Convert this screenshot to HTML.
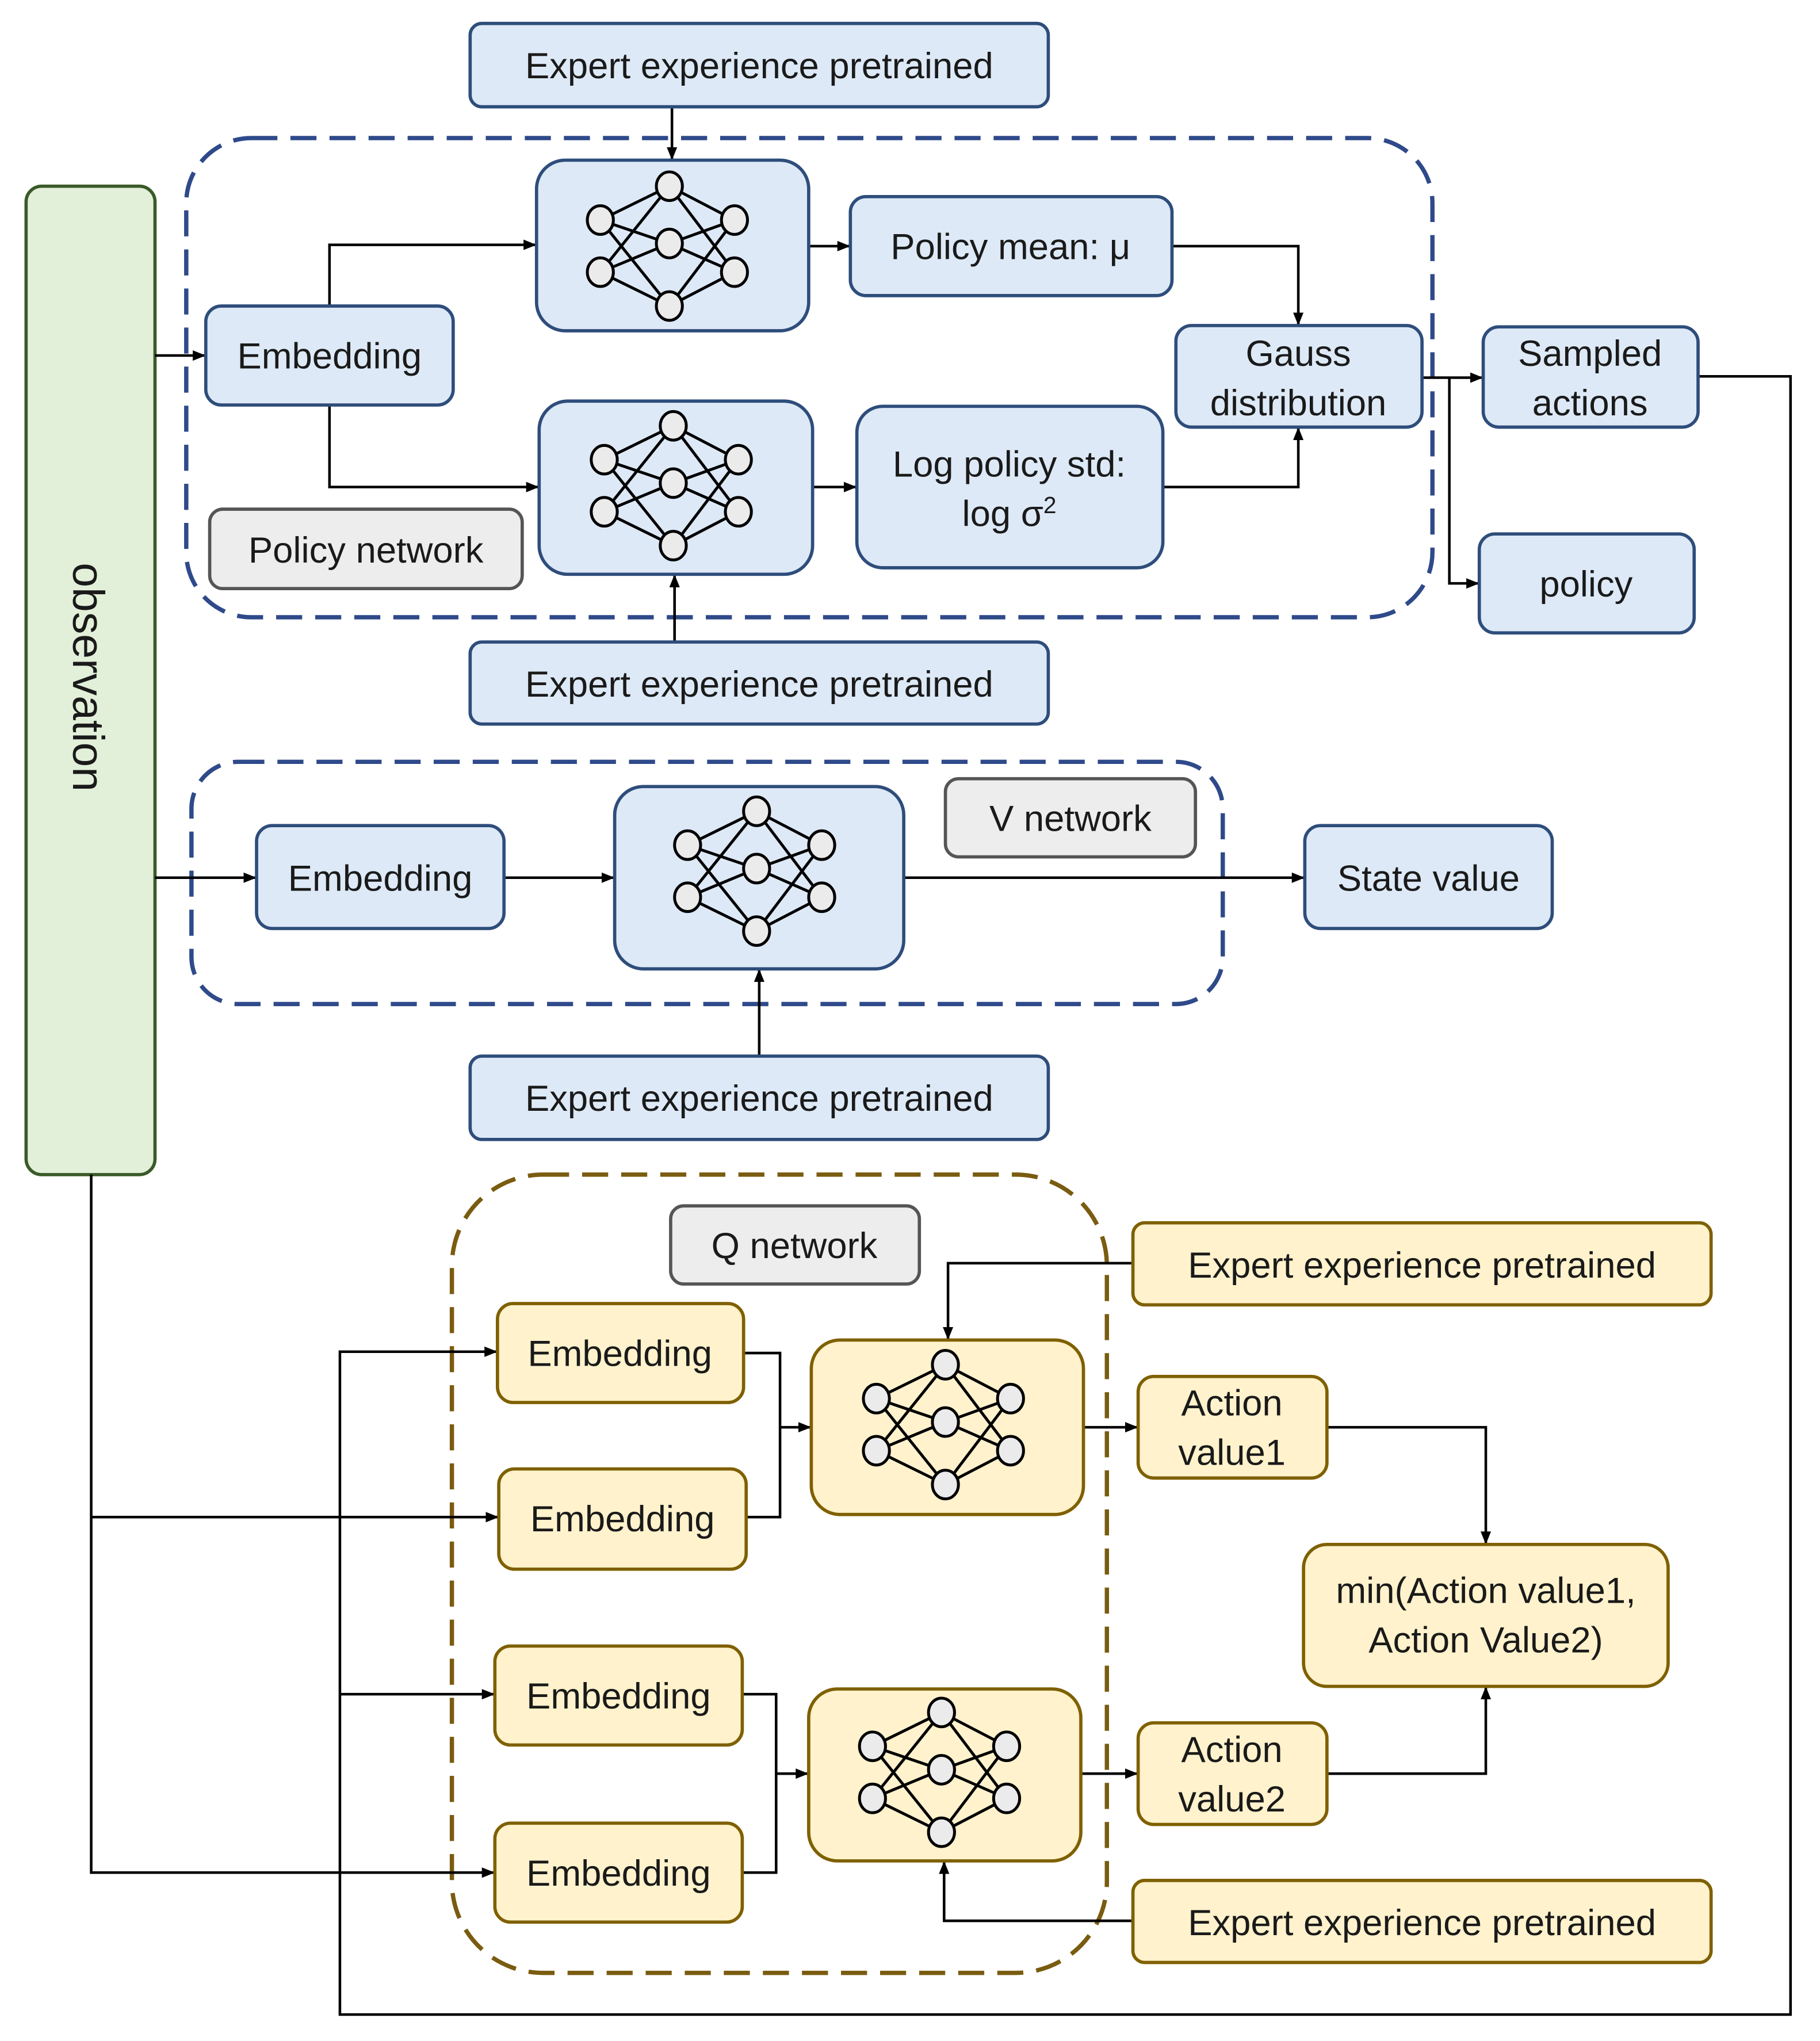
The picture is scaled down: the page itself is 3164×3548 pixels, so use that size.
<!DOCTYPE html>
<html><head><meta charset="utf-8"><style>html,body{margin:0;padding:0;background:#fff}svg{display:block}</style></head>
<body>
<svg xmlns="http://www.w3.org/2000/svg" width="3164" height="3548" viewBox="0 0 1397.6 1567.3" font-family="'Liberation Sans', sans-serif" font-size="28" fill="#1a1a1a">
<defs>
<marker id="a" markerWidth="10" markerHeight="10" refX="9" refY="5" orient="auto" markerUnits="userSpaceOnUse"><path d="M0,1 L10,5 L0,9 z" fill="#000"/></marker>
<g id="nn" stroke="#000" stroke-width="2.2">
<g fill="none">
<path d="M-53,-20 L0,-46 M-53,-20 L0,-2 M-53,-20 L0,46 M-53,20 L0,-46 M-53,20 L0,-2 M-53,20 L0,46 M50,-20 L0,-46 M50,-20 L0,-2 M50,-20 L0,46 M50,20 L0,-46 M50,20 L0,-2 M50,20 L0,46"/>
</g>
<g fill="#ebebeb">
<ellipse cx="-53" cy="-20" rx="10" ry="11"/><ellipse cx="-53" cy="20" rx="10" ry="11"/>
<ellipse cx="0" cy="-46" rx="10" ry="11"/><ellipse cx="0" cy="-2" rx="10" ry="11"/><ellipse cx="0" cy="46" rx="10" ry="11"/>
<ellipse cx="50" cy="-20" rx="10" ry="11"/><ellipse cx="50" cy="20" rx="10" ry="11"/>
</g>
</g>
</defs>

<rect x="20" y="143" width="99" height="759" rx="12" fill="#e2efd9" stroke="#3a5a28" stroke-width="2.5"/>
<text transform="translate(56,520) rotate(90)" text-anchor="middle" font-size="34">observation</text>

<rect x="143" y="106" width="957" height="368" rx="50" fill="none" stroke="#2f4a8a" stroke-width="3.3" stroke-dasharray="20,10"/>
<rect x="147" y="585" width="792" height="186" rx="36" fill="none" stroke="#2f4a8a" stroke-width="3.3" stroke-dasharray="20,10"/>
<rect x="347" y="902" width="503" height="613" rx="70" fill="none" stroke="#7a5c10" stroke-width="3.3" stroke-dasharray="20,10"/>

<g stroke="#000" stroke-width="2" fill="none">
<path d="M119,273 H157" marker-end="url(#a)"/>
<path d="M253,235 V188 H411" marker-end="url(#a)"/>
<path d="M253,311 V374 H413" marker-end="url(#a)"/>
<path d="M516,82 V122" marker-end="url(#a)"/>
<path d="M621,189 H652" marker-end="url(#a)"/>
<path d="M900,189 H997 V249" marker-end="url(#a)"/>
<path d="M624,374 H657" marker-end="url(#a)"/>
<path d="M893,374 H997 V329" marker-end="url(#a)"/>
<path d="M1092,290 H1138" marker-end="url(#a)"/>
<path d="M1113,290 V448 H1135" marker-end="url(#a)"/>
<path d="M1304,289 H1375 V1547 H261 V1038 H381" marker-end="url(#a)"/>
<path d="M261,1301 H379" marker-end="url(#a)"/>
<path d="M518,493 V442" marker-end="url(#a)"/>
<path d="M119,674 H196" marker-end="url(#a)"/>
<path d="M387,674 H471" marker-end="url(#a)"/>
<path d="M694,674 H1001" marker-end="url(#a)"/>
<path d="M583,811 V745" marker-end="url(#a)"/>
<path d="M70,902 V1438 H379" marker-end="url(#a)"/>
<path d="M70,1165 H382" marker-end="url(#a)"/>
<path d="M571,1039 H599 V1165 H573"/>
<path d="M599,1096 H622" marker-end="url(#a)"/>
<path d="M570,1301 H596 V1438 H570"/>
<path d="M596,1362 H620" marker-end="url(#a)"/>
<path d="M870,970 H728 V1028" marker-end="url(#a)"/>
<path d="M870,1475 H725 V1430" marker-end="url(#a)"/>
<path d="M832,1096 H873" marker-end="url(#a)"/>
<path d="M830,1362 H873" marker-end="url(#a)"/>
<path d="M1019,1096 H1141 V1185" marker-end="url(#a)"/>
<path d="M1019,1362 H1141 V1296" marker-end="url(#a)"/>
</g>

<g fill="#dde9f6" stroke="#2e4d7b" stroke-width="2.5">
<rect x="361" y="18" width="444" height="64" rx="9"/>
<rect x="412" y="123" width="209" height="131" rx="22"/>
<rect x="414" y="308" width="210" height="133" rx="22"/>
<rect x="653" y="151" width="247" height="76" rx="12"/>
<rect x="158" y="235" width="190" height="76" rx="12"/>
<rect x="658" y="312" width="235" height="124" rx="20"/>
<rect x="903" y="250" width="189" height="78" rx="12"/>
<rect x="1139" y="251" width="165" height="77" rx="12"/>
<rect x="1136" y="410" width="165" height="76" rx="12"/>
<rect x="361" y="493" width="444" height="63" rx="9"/>
<rect x="197" y="634" width="190" height="79" rx="12"/>
<rect x="472" y="604" width="222" height="140" rx="22"/>
<rect x="1002" y="634" width="190" height="79" rx="12"/>
<rect x="361" y="811" width="444" height="64" rx="9"/>
</g>
<g fill="#ededed" stroke="#555" stroke-width="2.5">
<rect x="161" y="391" width="240" height="61" rx="10"/>
<rect x="726" y="598" width="192" height="60" rx="10"/>
<rect x="515" y="926" width="191" height="60" rx="10"/>
</g>
<g fill="#fff2cc" stroke="#7f6000" stroke-width="2.5">
<rect x="870" y="939" width="444" height="63" rx="9"/>
<rect x="382" y="1001" width="189" height="76" rx="12"/>
<rect x="383" y="1128" width="190" height="77" rx="12"/>
<rect x="380" y="1264" width="190" height="76" rx="12"/>
<rect x="380" y="1400" width="190" height="76" rx="12"/>
<rect x="623" y="1029" width="209" height="134" rx="22"/>
<rect x="621" y="1297" width="209" height="132" rx="22"/>
<rect x="874" y="1057" width="145" height="78" rx="12"/>
<rect x="874" y="1323" width="145" height="78" rx="12"/>
<rect x="1001" y="1186" width="280" height="109" rx="18"/>
<rect x="870" y="1444" width="444" height="63" rx="9"/>
</g>

<use href="#nn" x="514" y="189"/>
<use href="#nn" x="517" y="373"/>
<use href="#nn" x="581" y="669"/>
<use href="#nn" x="726" y="1094"/>
<use href="#nn" x="723" y="1361"/>

<g text-anchor="middle">
<text x="583" y="60">Expert experience pretrained</text>
<text x="776" y="199">Policy mean: μ</text>
<text x="253" y="283">Embedding</text>
<text x="775" y="366">Log policy std:</text>
<text x="775" y="404">log σ<tspan dy="-10" font-size="18">2</tspan></text>
<text x="997" y="281">Gauss</text>
<text x="997" y="319">distribution</text>
<text x="1221" y="281">Sampled</text>
<text x="1221" y="319">actions</text>
<text x="1218" y="458">policy</text>
<text x="281" y="432">Policy network</text>
<text x="583" y="535">Expert experience pretrained</text>
<text x="292" y="684">Embedding</text>
<text x="822" y="638">V network</text>
<text x="1097" y="684">State value</text>
<text x="583" y="853">Expert experience pretrained</text>
<text x="610" y="966">Q network</text>
<text x="1092" y="981">Expert experience pretrained</text>
<text x="476" y="1049">Embedding</text>
<text x="478" y="1176">Embedding</text>
<text x="475" y="1312">Embedding</text>
<text x="475" y="1448">Embedding</text>
<text x="946" y="1087">Action</text>
<text x="946" y="1125">value1</text>
<text x="946" y="1353">Action</text>
<text x="946" y="1391">value2</text>
<text x="1141" y="1231">min(Action value1,</text>
<text x="1141" y="1269">Action Value2)</text>
<text x="1092" y="1486">Expert experience pretrained</text>
</g>
</svg>
</body></html>
